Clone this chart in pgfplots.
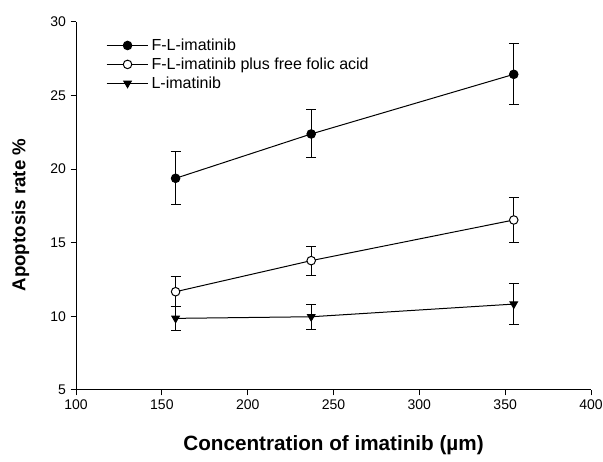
\documentclass[border=0pt]{standalone}
\usepackage{fontspec}
\setmainfont{Liberation Sans}
\usepackage{pgfplots}
\pgfplotsset{compat=1.18}
\begin{document}
\begin{tikzpicture}
\begin{axis}[
  name=ax,
  scale only axis,
  width=386pt, height=276pt,
  xmin=100, xmax=400, ymin=5, ymax=30,
  xtick={100,150,...,400}, ytick={5,10,...,30},
  axis lines=left,
  axis line style={-, line width=0.7pt},
  tick align=outside, tick pos=left,
  major tick length=4pt,
  every tick/.style={black, line width=0.7pt},
  /pgf/number format/assume math mode=true,
  tick label style={font=\fontsize{10.5}{12}\selectfont},
  xlabel={Concentration of imatinib (µm)},
  ylabel={Apoptosis rate \%},
  xlabel style={font=\fontsize{15.5}{18}\selectfont\bfseries, at={(axis description cs:0.5,-0.15)}, anchor=center},
  ylabel style={font=\fontsize{14}{16}\selectfont\bfseries, at={(axis description cs:-0.108,0.475)}, anchor=center, rotate=0},
  legend style={draw=none, fill=none, at={(axis description cs:0.058,0.962)}, anchor=north west,
    font=\fontsize{12}{13}\selectfont, row sep=0pt, inner sep=0pt},
  legend cell align=left,
  legend image code/.code={\draw[mark repeat=2,mark phase=2] plot coordinates {(0cm,0cm)(0.55cm,0cm)(1.1cm,0cm)};},
  every axis plot/.append style={black, line width=0.75pt},
  error bars/error mark options={black, line width=0.75pt, mark size=3.75pt, rotate=90},
]
\addplot[black, mark=*, mark size=3.2pt, mark options={fill=black, solid},
  error bars/.cd, y dir=both, y explicit]
  coordinates {(158,19.37) +- (0,1.79) (237,22.38) +- (0,1.63) (355,26.43) +- (0,2.08)};
\addlegendentry{F-L-imatinib}
\addplot[black, mark=*, mark size=3.2pt, mark options={fill=white, solid},
  error bars/.cd, y dir=both, y explicit]
  coordinates {(158,11.67) +- (0,1.0) (237,13.78) +- (0,0.98) (355,16.54) +- (0,1.55)};
\addlegendentry{F-L-imatinib plus free folic acid}
\addplot[black, mark=triangle*, mark size=3.2pt, mark options={fill=black, solid, rotate=180},
  error bars/.cd, y dir=both, y explicit]
  coordinates {(158,9.86) +- (0,0.8) (237,9.97) +- (0,0.84) (355,10.83) +- (0,1.38)};
\addlegendentry{L-imatinib}
\end{axis}
\pgfresetboundingbox
\path ([xshift=-57pt,yshift=-53.3pt]ax.south west) rectangle ([xshift=9pt,yshift=16.3pt]ax.north east);
\end{tikzpicture}
\end{document}
